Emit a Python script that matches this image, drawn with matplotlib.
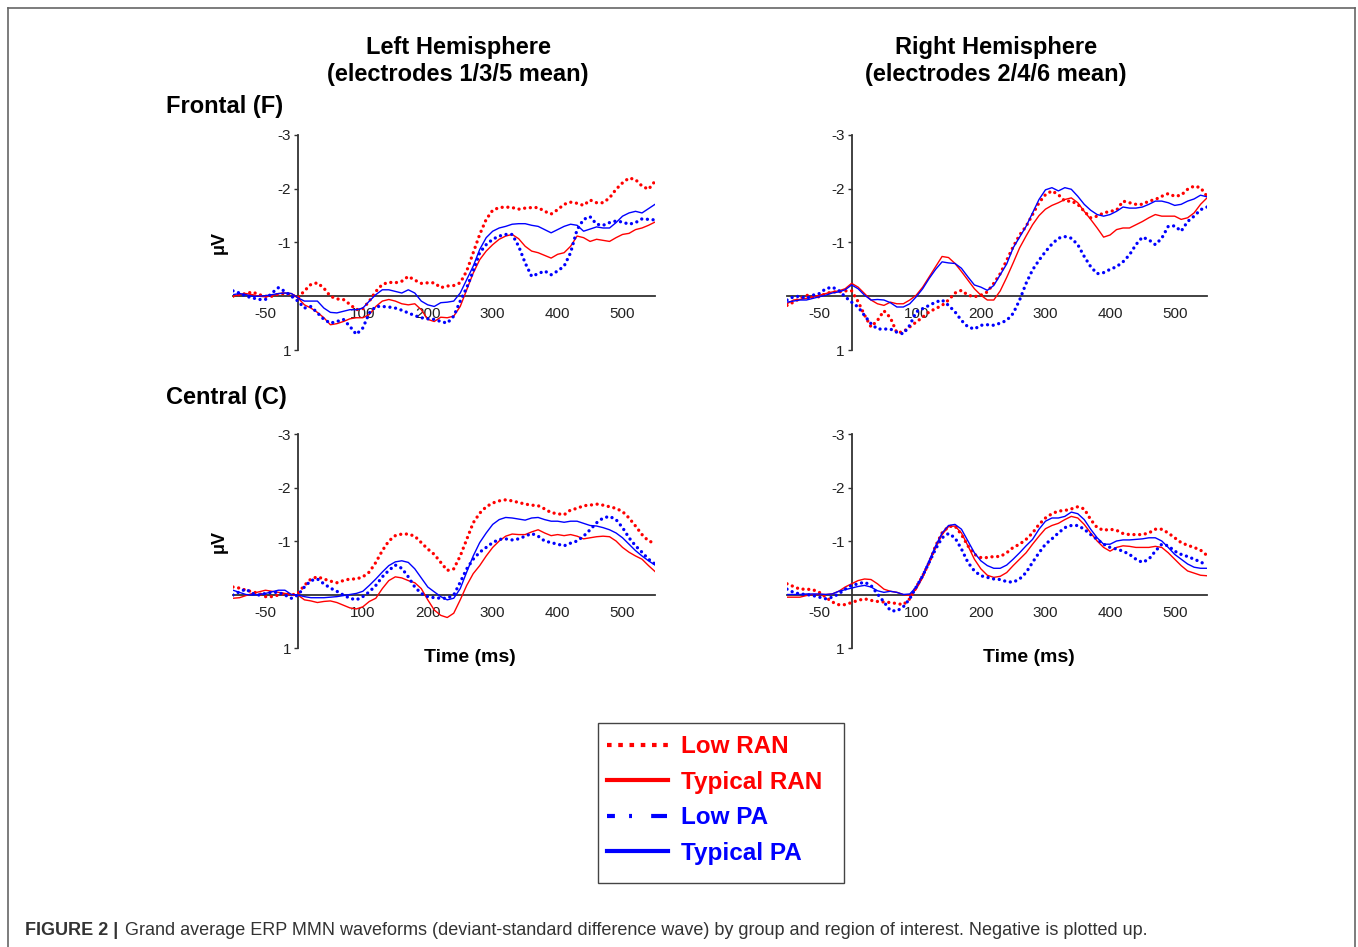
"""
plot.py

Grand average ERP MMN difference waves, four panels (frontal/central x left/right)
with a shared legend box and a figure caption. Saves out.png.
"""

import matplotlib
matplotlib.use("Agg")  # headless rendering

import matplotlib.pyplot as plt
from matplotlib.lines import Line2D
from matplotlib.patches import Rectangle

plt.rcParams["font.family"] = ["Liberation Sans", "DejaVu Sans"]
plt.rcParams["axes.unicode_minus"] = False

W, H = 1358, 947

RED = "#ff0000"
BLUE = "#0000ff"
AXIS_COLOR = "#333333"

TIME_MS = list(range(-100, 551, 10))
X_TICKS = [-50, 100, 200, 300, 400, 500]
Y_TICKS = [-3, -2, -1, 1]

LABELS = ["Low RAN", "Typical RAN", "Low PA", "Typical PA"]

# ---- Frontal, left hemisphere (electrodes 1/3/5 mean) ----
FL_LOW_RAN = [0.0, -0.03, -0.05, -0.08, -0.03, 0.0, 0.0, -0.04, -0.05, -0.03,
              0.03, -0.1, -0.22, -0.25, -0.15, 0.0, 0.05, 0.06, 0.15, 0.25,
              0.23, 0.09, -0.09, -0.22, -0.26, -0.25, -0.28, -0.37, -0.3, -0.24,
              -0.25, -0.25, -0.16, -0.19, -0.2, -0.25, -0.47, -0.81, -1.15, -1.43,
              -1.6, -1.65, -1.66, -1.65, -1.62, -1.64, -1.65, -1.65, -1.58, -1.53,
              -1.61, -1.71, -1.75, -1.73, -1.69, -1.79, -1.74, -1.74, -1.83, -1.99,
              -2.11, -2.2, -2.17, -2.05, -1.99, -2.14]
FL_TYP_RAN = [0.0, -0.03, -0.05, -0.03, 0.0, 0.01, -0.01, -0.05, -0.06, -0.05,
              0.03, 0.16, 0.22, 0.3, 0.4, 0.53, 0.51, 0.47, 0.42, 0.4,
              0.4, 0.34, 0.19, 0.09, 0.06, 0.09, 0.14, 0.16, 0.14, 0.25,
              0.43, 0.47, 0.39, 0.4, 0.37, 0.19, -0.12, -0.43, -0.68, -0.84,
              -0.96, -1.06, -1.12, -1.15, -1.07, -0.93, -0.84, -0.81, -0.76, -0.71,
              -0.78, -0.81, -0.93, -1.12, -1.09, -1.02, -1.06, -1.04, -1.02, -1.09,
              -1.15, -1.17, -1.24, -1.27, -1.32, -1.38]
FL_LOW_PA = [-0.1, -0.06, 0.0, 0.03, 0.06, 0.06, -0.06, -0.16, -0.09, 0.0,
             0.09, 0.22, 0.19, 0.31, 0.43, 0.5, 0.47, 0.43, 0.56, 0.71,
             0.59, 0.31, 0.19, 0.19, 0.2, 0.22, 0.26, 0.31, 0.36, 0.4,
             0.42, 0.43, 0.47, 0.5, 0.37, 0.09, -0.16, -0.47, -0.81, -0.96,
             -1.06, -1.12, -1.15, -1.15, -0.93, -0.62, -0.37, -0.42, -0.47, -0.4,
             -0.47, -0.56, -0.81, -1.24, -1.43, -1.48, -1.34, -1.32, -1.37, -1.4,
             -1.38, -1.34, -1.37, -1.44, -1.43, -1.42]
FL_TYP_PA = [-0.03, -0.05, -0.03, 0.0, 0.0, -0.01, -0.03, -0.05, -0.06, -0.05,
             0.03, 0.09, 0.09, 0.09, 0.22, 0.3, 0.31, 0.28, 0.25, 0.25,
             0.22, 0.09, -0.03, -0.12, -0.12, -0.09, -0.06, -0.12, -0.06, 0.09,
             0.16, 0.19, 0.12, 0.11, 0.09, -0.06, -0.31, -0.56, -0.87, -1.09,
             -1.21, -1.27, -1.3, -1.34, -1.35, -1.35, -1.32, -1.3, -1.24, -1.18,
             -1.24, -1.3, -1.34, -1.32, -1.21, -1.25, -1.29, -1.27, -1.27, -1.37,
             -1.49, -1.55, -1.58, -1.55, -1.63, -1.71]

# ---- Frontal, right hemisphere (electrodes 2/4/6 mean) ----
FR_LOW_RAN = [0.17, 0.11, 0.04, -0.02, 0.01, 0.01, -0.05, -0.08, -0.08, -0.1,
              -0.1, 0.1, 0.35, 0.57, 0.45, 0.27, 0.4, 0.68, 0.66, 0.57,
              0.48, 0.39, 0.29, 0.23, 0.17, 0.07, -0.06, -0.11, -0.02, 0.01,
              -0.02, -0.08, -0.24, -0.42, -0.67, -0.92, -1.14, -1.3, -1.52, -1.74,
              -1.89, -1.96, -1.89, -1.77, -1.77, -1.71, -1.58, -1.46, -1.49, -1.55,
              -1.58, -1.6, -1.77, -1.74, -1.71, -1.71, -1.77, -1.8, -1.86, -1.91,
              -1.86, -1.88, -1.99, -2.05, -2.02, -1.86]
FR_TYP_RAN = [0.14, 0.07, 0.06, 0.04, 0.01, -0.02, -0.05, -0.08, -0.1, -0.14,
              -0.24, -0.17, -0.05, 0.07, 0.14, 0.17, 0.11, 0.14, 0.14, 0.07,
              -0.02, -0.17, -0.36, -0.55, -0.74, -0.72, -0.61, -0.46, -0.3, -0.14,
              -0.02, 0.07, 0.07, -0.1, -0.35, -0.62, -0.9, -1.12, -1.33, -1.5,
              -1.62, -1.69, -1.74, -1.8, -1.83, -1.74, -1.58, -1.43, -1.27, -1.1,
              -1.14, -1.24, -1.27, -1.27, -1.33, -1.39, -1.46, -1.52, -1.49, -1.49,
              -1.49, -1.43, -1.46, -1.55, -1.71, -1.83]
FR_LOW_PA = [0.07, 0.01, 0.0, 0.04, -0.02, -0.05, -0.14, -0.17, -0.11, 0.01,
             0.11, 0.2, 0.36, 0.51, 0.61, 0.61, 0.61, 0.67, 0.7, 0.54,
             0.29, 0.23, 0.17, 0.11, 0.07, 0.17, 0.29, 0.45, 0.57, 0.61,
             0.54, 0.53, 0.54, 0.5, 0.45, 0.32, 0.07, -0.24, -0.49, -0.67,
             -0.83, -0.97, -1.08, -1.11, -1.08, -0.96, -0.74, -0.55, -0.42, -0.44,
             -0.5, -0.55, -0.64, -0.77, -0.96, -1.1, -1.05, -0.96, -1.08, -1.3,
             -1.31, -1.21, -1.39, -1.49, -1.61, -1.66]
FR_TYP_PA = [0.11, 0.09, 0.07, 0.07, 0.04, 0.01, -0.02, -0.06, -0.08, -0.12,
             -0.21, -0.14, -0.02, 0.07, 0.06, 0.07, 0.12, 0.2, 0.2, 0.14,
             0.01, -0.14, -0.33, -0.5, -0.64, -0.62, -0.61, -0.52, -0.36, -0.21,
             -0.17, -0.11, -0.2, -0.4, -0.6, -0.9, -1.1, -1.3, -1.55, -1.8,
             -1.98, -2.02, -1.96, -2.02, -1.99, -1.86, -1.71, -1.6, -1.52, -1.49,
             -1.52, -1.58, -1.66, -1.64, -1.64, -1.66, -1.71, -1.77, -1.77, -1.74,
             -1.69, -1.71, -1.77, -1.81, -1.88, -1.85]

# ---- Central, left hemisphere ----
CL_LOW_RAN = [-0.14, -0.12, -0.08, -0.05, -0.02, 0.04, 0.04, 0.01, -0.02, 0.01,
              -0.02, -0.17, -0.29, -0.33, -0.29, -0.25, -0.22, -0.26, -0.29, -0.29,
              -0.33, -0.42, -0.6, -0.82, -1.0, -1.1, -1.13, -1.13, -1.09, -0.97,
              -0.85, -0.75, -0.6, -0.45, -0.48, -0.72, -1.03, -1.34, -1.52, -1.64,
              -1.71, -1.75, -1.77, -1.75, -1.72, -1.69, -1.67, -1.66, -1.6, -1.53,
              -1.51, -1.49, -1.58, -1.61, -1.66, -1.67, -1.69, -1.67, -1.64, -1.61,
              -1.55, -1.43, -1.28, -1.12, -1.0, -0.96]
CL_TYP_RAN = [0.07, 0.06, 0.02, -0.02, -0.05, -0.08, -0.06, -0.04, -0.02, 0.0,
              0.01, 0.1, 0.12, 0.15, 0.13, 0.12, 0.15, 0.2, 0.25, 0.27,
              0.23, 0.13, 0.07, -0.11, -0.26, -0.33, -0.31, -0.26, -0.22, -0.11,
              0.1, 0.29, 0.39, 0.43, 0.35, 0.1, -0.17, -0.39, -0.54, -0.72,
              -0.88, -1.0, -1.09, -1.13, -1.12, -1.12, -1.17, -1.21, -1.15, -1.1,
              -1.12, -1.1, -1.12, -1.09, -1.04, -1.06, -1.08, -1.09, -1.08, -1.0,
              -0.88, -0.79, -0.72, -0.66, -0.54, -0.43]
CL_LOW_PA = [0.01, -0.05, -0.1, -0.02, 0.01, -0.02, -0.04, -0.04, 0.01, 0.07,
             0.01, -0.14, -0.26, -0.29, -0.2, -0.12, -0.06, 0.01, 0.07, 0.1,
             0.04, -0.05, -0.17, -0.33, -0.45, -0.55, -0.49, -0.33, -0.14, -0.02,
             0.04, 0.06, 0.07, 0.07, 0.01, -0.23, -0.48, -0.66, -0.79, -0.88,
             -0.97, -1.03, -1.04, -1.02, -1.04, -1.09, -1.14, -1.09, -1.0, -0.97,
             -0.94, -0.91, -0.96, -1.0, -1.09, -1.21, -1.34, -1.43, -1.46, -1.4,
             -1.25, -1.06, -0.91, -0.79, -0.66, -0.57]
CL_TYP_PA = [-0.08, -0.04, 0.0, 0.01, 0.0, -0.02, -0.05, -0.08, -0.08, 0.0,
             0.01, 0.04, 0.06, 0.06, 0.06, 0.05, 0.04, 0.02, 0.0, -0.02,
             -0.06, -0.17, -0.29, -0.42, -0.54, -0.61, -0.63, -0.6, -0.48, -0.31,
             -0.14, -0.05, 0.04, 0.1, 0.07, -0.11, -0.42, -0.72, -0.97, -1.15,
             -1.31, -1.4, -1.44, -1.43, -1.41, -1.39, -1.43, -1.44, -1.4, -1.37,
             -1.37, -1.35, -1.37, -1.37, -1.33, -1.29, -1.28, -1.25, -1.21, -1.15,
             -1.06, -0.94, -0.82, -0.72, -0.63, -0.55]

# ---- Central, right hemisphere ----
CR_LOW_RAN = [-0.2, -0.15, -0.1, -0.1, -0.09, -0.04, 0.05, 0.14, 0.19, 0.19,
              0.15, 0.11, 0.08, 0.11, 0.13, 0.14, 0.15, 0.17, 0.19, 0.08,
              -0.14, -0.35, -0.6, -0.91, -1.15, -1.27, -1.28, -1.12, -0.91, -0.75,
              -0.69, -0.69, -0.71, -0.71, -0.78, -0.88, -0.94, -1.03, -1.15, -1.31,
              -1.43, -1.51, -1.56, -1.57, -1.6, -1.64, -1.6, -1.4, -1.25, -1.2,
              -1.22, -1.2, -1.14, -1.12, -1.12, -1.12, -1.15, -1.22, -1.22, -1.15,
              -1.06, -0.97, -0.92, -0.88, -0.83, -0.73]
CR_TYP_RAN = [0.05, 0.05, 0.05, 0.02, 0.0, 0.0, 0.0, -0.01, -0.06, -0.14,
              -0.2, -0.26, -0.29, -0.28, -0.2, -0.1, -0.06, -0.04, 0.0, 0.02,
              -0.1, -0.32, -0.6, -0.88, -1.12, -1.27, -1.28, -1.15, -0.91, -0.66,
              -0.48, -0.36, -0.32, -0.34, -0.41, -0.54, -0.66, -0.78, -0.94, -1.09,
              -1.23, -1.29, -1.33, -1.4, -1.46, -1.43, -1.31, -1.15, -1.0, -0.88,
              -0.81, -0.88, -0.91, -0.9, -0.88, -0.88, -0.88, -0.9, -0.88, -0.78,
              -0.66, -0.54, -0.44, -0.4, -0.36, -0.35]
CR_LOW_PA = [-0.1, -0.04, -0.01, 0.0, 0.02, 0.05, 0.08, 0.05, -0.01, -0.1,
             -0.17, -0.2, -0.23, -0.17, -0.01, 0.14, 0.3, 0.31, 0.23, 0.08,
             -0.14, -0.35, -0.6, -0.85, -1.06, -1.14, -1.06, -0.85, -0.6, -0.44,
             -0.35, -0.32, -0.29, -0.28, -0.24, -0.23, -0.29, -0.41, -0.6, -0.78,
             -0.94, -1.04, -1.15, -1.25, -1.29, -1.29, -1.22, -1.12, -1.03, -0.94,
             -0.88, -0.85, -0.81, -0.75, -0.66, -0.6, -0.66, -0.81, -0.94, -0.91,
             -0.81, -0.75, -0.71, -0.66, -0.61, -0.54]
CR_TYP_PA = [0.0, 0.0, 0.0, -0.01, -0.01, -0.01, 0.0, -0.01, -0.06, -0.09,
             -0.12, -0.15, -0.17, -0.14, -0.07, -0.04, -0.06, -0.04, 0.0, -0.01,
             -0.14, -0.35, -0.63, -0.91, -1.15, -1.29, -1.31, -1.22, -1.0, -0.78,
             -0.63, -0.54, -0.49, -0.49, -0.55, -0.66, -0.78, -0.91, -1.03, -1.22,
             -1.37, -1.43, -1.43, -1.46, -1.54, -1.51, -1.4, -1.22, -1.06, -0.94,
             -0.94, -1.0, -1.02, -1.02, -1.03, -1.04, -1.06, -1.06, -1.0, -0.88,
             -0.75, -0.66, -0.57, -0.51, -0.49, -0.49]

# line styles: (color, dashes or None for solid, linewidth)
STYLES = [
    (RED, (0.01, 1.7), 2.4),
    (RED, None, 1.0),
    (BLUE, (0.01, 1.7), 2.4),
    (BLUE, None, 1.0),
]


def px_box(left, top, right, bottom):
    """Pixel box (top-left origin) -> figure fraction [l, b, w, h]."""
    return [left / W, 1 - bottom / H, (right - left) / W, (bottom - top) / H]


def draw_panel(ax, series):
    for values, (color, dashes, lw) in zip(series, STYLES):
        line, = ax.plot(TIME_MS, values, color=color, lw=lw, zorder=3)
        if dashes is not None:
            line.set_dashes(dashes)
            line.set_dash_capstyle("round")
    ax.set_xlim(-100, 550)
    ax.set_ylim(1, -3)
    for side in ("top", "right"):
        ax.spines[side].set_visible(False)
    ax.spines["left"].set_position(("data", 0))
    ax.spines["bottom"].set_position(("data", 0))
    for side in ("left", "bottom"):
        ax.spines[side].set_color(AXIS_COLOR)
        ax.spines[side].set_linewidth(1.3)
        ax.spines[side].set_zorder(2)
    ax.set_xticks(X_TICKS)
    ax.set_yticks(Y_TICKS)
    ax.tick_params(axis="x", length=0, pad=8, labelsize=11, colors="#222222")
    ax.tick_params(axis="y", length=3, width=1, pad=2, labelsize=11, colors="#222222")
    ax.tick_params(axis="y", color=AXIS_COLOR)
    ax.patch.set_visible(False)


fig = plt.figure(figsize=(W / 100, H / 100), dpi=100)
fig.patch.set_facecolor("white")

panels = [
    (px_box(233, 135, 655, 350), [FL_LOW_RAN, FL_TYP_RAN, FL_LOW_PA, FL_TYP_PA]),
    (px_box(787, 135, 1207, 350), [FR_LOW_RAN, FR_TYP_RAN, FR_LOW_PA, FR_TYP_PA]),
    (px_box(233, 434, 655, 648), [CL_LOW_RAN, CL_TYP_RAN, CL_LOW_PA, CL_TYP_PA]),
    (px_box(787, 434, 1207, 648), [CR_LOW_RAN, CR_TYP_RAN, CR_LOW_PA, CR_TYP_PA]),
]
for rect, series in panels:
    ax = fig.add_axes(rect)
    draw_panel(ax, series)


def ftext(x, y, s, **kw):
    return fig.text(x / W, 1 - y / H, s, **kw)


# column titles
for cx, side, elec in [(458, "Left", "1/3/5"), (996, "Right", "2/4/6")]:
    ftext(cx, 47, f"{side} Hemisphere", ha="center", va="center",
          fontsize=17, fontweight="bold")
    ftext(cx, 74, f"(electrodes {elec} mean)", ha="center", va="center",
          fontsize=17, fontweight="bold")

# row titles
ftext(166, 107, "Frontal (F)", ha="left", va="center", fontsize=17, fontweight="bold")
ftext(166, 397, "Central (C)", ha="left", va="center", fontsize=17, fontweight="bold")

# y labels
for y in (242, 541):
    ftext(219, y, "μV", ha="center", va="center", rotation=90,
          fontsize=13, fontweight="bold")

# x labels
for x in (470, 1029):
    ftext(x, 657, "Time (ms)", ha="center", va="center", fontsize=14, fontweight="bold")

# legend: frame drawn separately so the box can match the original exactly
fig.add_artist(Rectangle((598 / W, 1 - 883 / H), 246 / W, 160 / H,
                         transform=fig.transFigure, fill=False,
                         edgecolor="#444444", lw=1.0))
handles = [
    Line2D([], [], color=RED, lw=3, dashes=(1.1, 1.6), dash_capstyle="butt"),
    Line2D([], [], color=RED, lw=3),
    Line2D([], [], color=BLUE, lw=3, dashes=(1.9, 3.4, 0.7, 4.6, 3.8, 0.5),
           dash_capstyle="butt"),
    Line2D([], [], color=BLUE, lw=3),
]
fig.legend(handles, LABELS, loc="center",
           bbox_to_anchor=(714.5 / W, 1 - 800 / H),
           prop={"weight": "bold", "size": 17.5},
           labelcolor=[RED, RED, BLUE, BLUE],
           handlelength=2.5, handletextpad=0.53, labelspacing=0.52,
           borderpad=0.0, frameon=False)

# outer frame (open at the bottom)
frame_kw = dict(transform=fig.transFigure, color="#666666", lw=1.2)
fig.add_artist(Line2D([8 / W, 8 / W], [1 - 8 / H, 0], **frame_kw))
fig.add_artist(Line2D([8 / W, 1355 / W], [1 - 8 / H, 1 - 8 / H], **frame_kw))
fig.add_artist(Line2D([1355 / W, 1355 / W], [1 - 8 / H, 0], **frame_kw))

# caption
ftext(25, 930, "FIGURE 2 |", ha="left", va="center", fontsize=13,
      fontweight="bold", color="#333333")
ftext(125, 930, "Grand average ERP MMN waveforms (deviant-standard difference wave) "
      "by group and region of interest. Negative is plotted up.",
      ha="left", va="center", fontsize=13, color="#333333")

fig.savefig("out.png", dpi=100)
